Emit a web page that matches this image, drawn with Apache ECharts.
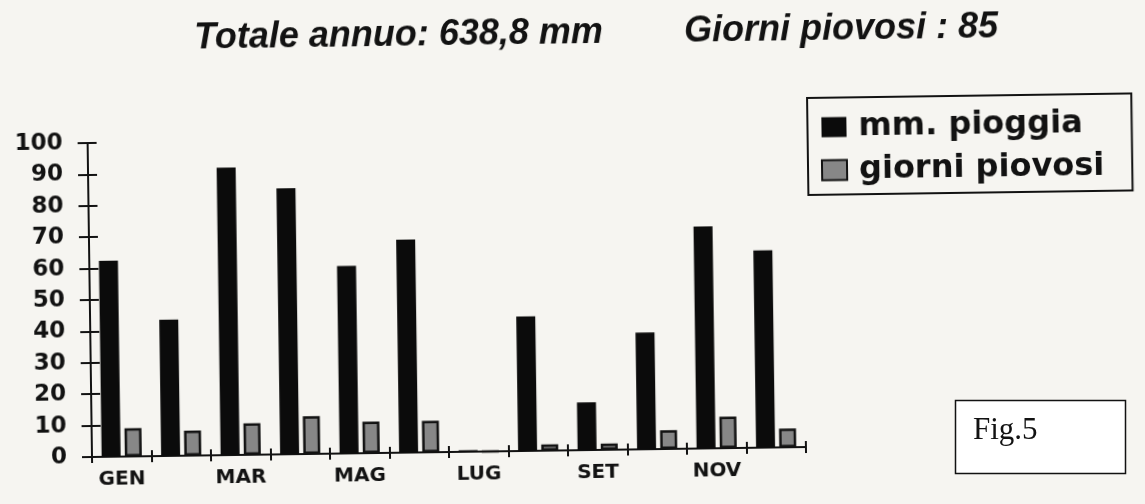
<!DOCTYPE html>
<html>
<head>
<meta charset="utf-8">
<title>Piovosità mensile</title>
<script src="https://cdn.jsdelivr.net/npm/echarts@6/dist/echarts.min.js"></script>
<style>
  html, body { margin: 0; padding: 0; width: 1145px; height: 504px; overflow: hidden; background: #f6f5f1; }
  /* the printed figure sits slightly askew on the page */
  #chart { position: absolute; left: 0; top: 0; width: 1145px; height: 504px;
           transform-origin: 92px 457px; transform: rotate(-0.8deg); }
  #fig { position: absolute; left: 0; top: 0; width: 1145px; height: 504px; pointer-events: none; }
</style>
</head>
<body>
<div id="chart"></div>
<div id="fig"></div>
<script>
// Monthly rainfall (mm) and rainy days
const months = ['GEN', 'FEB', 'MAR', 'APR', 'MAG', 'GIU', 'LUG', 'AGO', 'SET', 'OTT', 'NOV', 'DIC'];
const mmPioggia = [62.4, 43.4, 91.6, 84.7, 59.7, 67.8, 0.5, 42.8, 15.2, 37.2, 70.7, 62.8];
const giorniPiovosi = [9, 8, 10, 12, 10, 10, 0, 2, 2, 6, 10, 6];
const yMin = 0, yMax = 100, yStep = 10;
const seriesNames = ['mm. pioggia', 'giorni piovosi'];

const totalMm = mmPioggia.reduce((a, b) => a + b, 0).toFixed(1).replace('.', ',');
const totalDays = giorniPiovosi.reduce((a, b) => a + b, 0);

const INK = '#121212';
const boldSans = { fontFamily: 'DejaVu Sans', fontWeight: 'bold', color: INK };
const titleFont = { fontFamily: 'Liberation Sans', fontStyle: 'italic', fontWeight: 'bold', fontSize: 36, color: INK };

const chart = echarts.init(document.getElementById('chart'), null, { renderer: 'canvas' });
chart.setOption({
  backgroundColor: 'transparent',
  animation: false,
  title: [
    { text: 'Totale annuo: ' + totalMm + ' mm', left: 200, top: 22, padding: 0, textStyle: titleFont },
    { text: 'Giorni piovosi : ' + totalDays, left: 690, top: 22, padding: 0, textStyle: titleFont }
  ],
  legend: {
    orient: 'vertical',
    left: 812, top: 108,
    padding: [13, 28, 8, 13],
    borderColor: INK, borderWidth: 2,
    itemWidth: 25, itemHeight: 20, itemGap: 10,
    textStyle: Object.assign({ fontSize: 32, lineHeight: 33, padding: [0, 0, 0, 7] }, boldSans),
    data: seriesNames.map(n => ({ name: n, icon: 'rect' }))
  },
  grid: { left: 92, right: 339, top: 143, bottom: 47, containLabel: false, outerBoundsMode: 'none' },
  xAxis: [
    {
      type: 'category', data: months, boundaryGap: true,
      axisLine: { show: true, lineStyle: { color: INK, width: 2 } },
      axisTick: { show: true, interval: 0, length: 6, lineStyle: { color: INK, width: 2 } },
      axisLabel: Object.assign({ interval: 1, margin: 13, fontSize: 20 }, boldSans),
      splitLine: { show: false }
    },
    {
      // ticks crossing the axis on the inner side
      type: 'category', data: months, position: 'bottom', boundaryGap: true,
      axisLine: { show: false },
      axisTick: { show: true, inside: true, interval: 0, length: 6, lineStyle: { color: INK, width: 2 } },
      axisLabel: { show: false },
      splitLine: { show: false }
    }
  ],
  yAxis: [
    {
      type: 'value', min: yMin, max: yMax, interval: yStep, position: 'left',
      axisLine: { show: true, lineStyle: { color: INK, width: 2 } },
      axisTick: { show: true, length: 10, lineStyle: { color: INK, width: 2 } },
      axisLabel: Object.assign({ margin: 25, fontSize: 23 }, boldSans),
      splitLine: { show: false }
    },
    {
      type: 'value', min: yMin, max: yMax, interval: yStep, position: 'left',
      axisLine: { show: false },
      axisTick: { show: true, inside: true, length: 9, lineStyle: { color: INK, width: 2 } },
      axisLabel: { show: false },
      splitLine: { show: false }
    }
  ],
  series: [
    {
      name: seriesNames[0], type: 'bar', data: mmPioggia,
      xAxisIndex: 0, yAxisIndex: 0,
      barWidth: 19, barMinHeight: 1,
      itemStyle: { color: '#0b0b0b' }
    },
    {
      name: seriesNames[1], type: 'bar', data: giorniPiovosi,
      xAxisIndex: 0, yAxisIndex: 0,
      barWidth: 17, barGap: '22%',
      itemStyle: { color: '#878787', borderColor: INK, borderWidth: 2.5 }
    }
  ]
});

// figure caption box
const fig = echarts.init(document.getElementById('fig'), null, { renderer: 'canvas' });
fig.setOption({
  backgroundColor: 'transparent',
  animation: false,
  graphic: [
    { type: 'rect', shape: { x: 955.5, y: 400.5, width: 170, height: 73 },
      style: { fill: '#ffffff', stroke: INK, lineWidth: 1.5 } },
    { type: 'text', x: 973, y: 415,
      style: { text: 'Fig.5', font: '31px "Liberation Serif"', fill: INK, verticalAlign: 'top' } }
  ]
});
</script>
</body>
</html>
